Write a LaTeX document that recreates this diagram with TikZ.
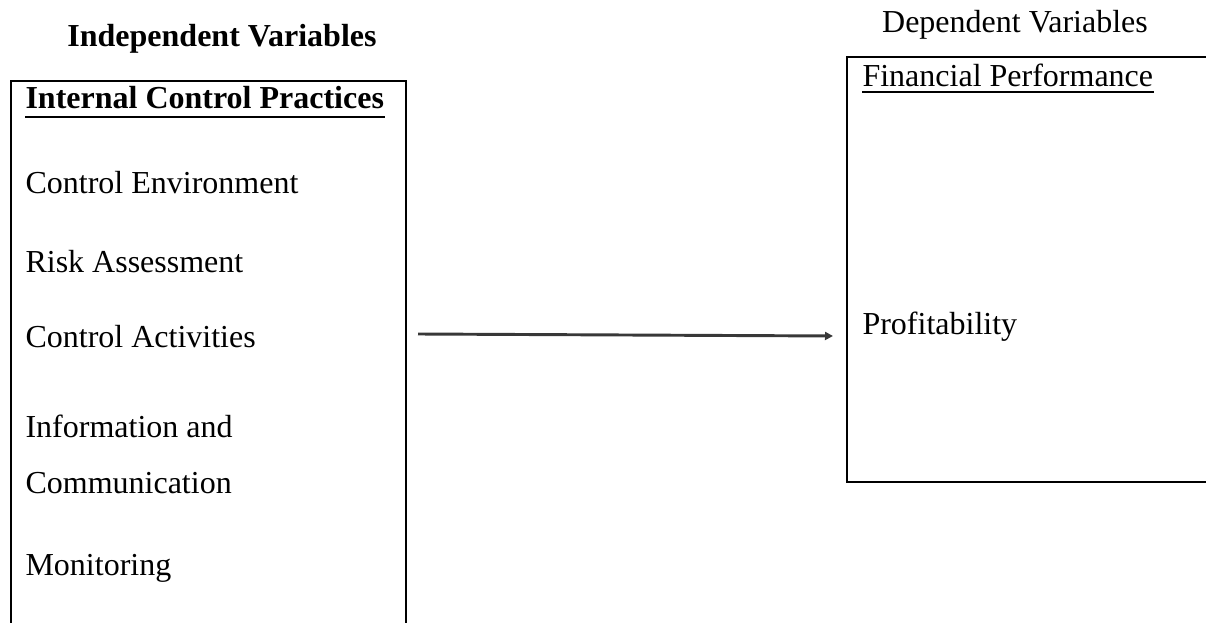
\documentclass[tikz,border=0pt]{standalone}
\usepackage{fontspec}
\setmainfont{Liberation Serif}
\usetikzlibrary{arrows.meta,calc,fit}
\begin{document}
\begin{tikzpicture}[x=0.375pt,y=-0.375pt,
  txt/.style={anchor=base west,inner sep=0pt,font=\fontsize{12}{14}\selectfont},
  ttl/.style={anchor=base,inner sep=0pt,font=\fontsize{12}{14}\selectfont},
  frame/.style={draw,line width=1pt,inner sep=0pt},
  uline/.style={line width=#1},
  link/.style={draw=black!78,line width=1.1pt,-{Triangle[length=3pt,width=3pt]}}]
\useasboundingbox (0,0) rectangle (1206,623);
% frames (parts run past the page edge, as in the reference)
\node (leftbox) [frame, fit={(11,81) (406,660)}] {};
\node (rightbox) [frame, fit={(847,57) (1230,482)}] {};
% headings
\node (indep) [ttl,font=\fontsize{12}{14}\selectfont\bfseries] at (222,47) {Independent Variables};
\node (dep) [ttl] at (1015,33) {Dependent Variables};
% left box contents
\node (ict) [txt,font=\fontsize{12}{14}\selectfont\bfseries] at (25,109) {Internal Control Practices};
\draw[uline=1.1pt] ($(ict.base west)+(0,8)$) -- ($(ict.base east)+(0,8)$);
\node (ce) [txt] at (25,194) {Control Environment};
\node (ra) [txt] at (25,273) {Risk Assessment};
\node (ca) [txt] at (25,348) {Control Activities};
\node (ic1) [txt] at (25,437) {Information and};
\node (ic2) [txt] at (25,493) {Communication};
\node (mon) [txt] at (25,575) {Monitoring};
% right box contents
\node (fp) [txt] at (862,87) {Financial Performance};
\draw[uline=0.8pt] ($(fp.base west)+(0,5)$) -- ($(fp.base east)+(0,5)$);
\node (prof) [txt] at (862,335) {Profitability};
% connector
\coordinate (a1) at (418,334);
\coordinate (a2) at (833,336);
\draw[link] (a1) -- (a2);
\end{tikzpicture}
\end{document}
